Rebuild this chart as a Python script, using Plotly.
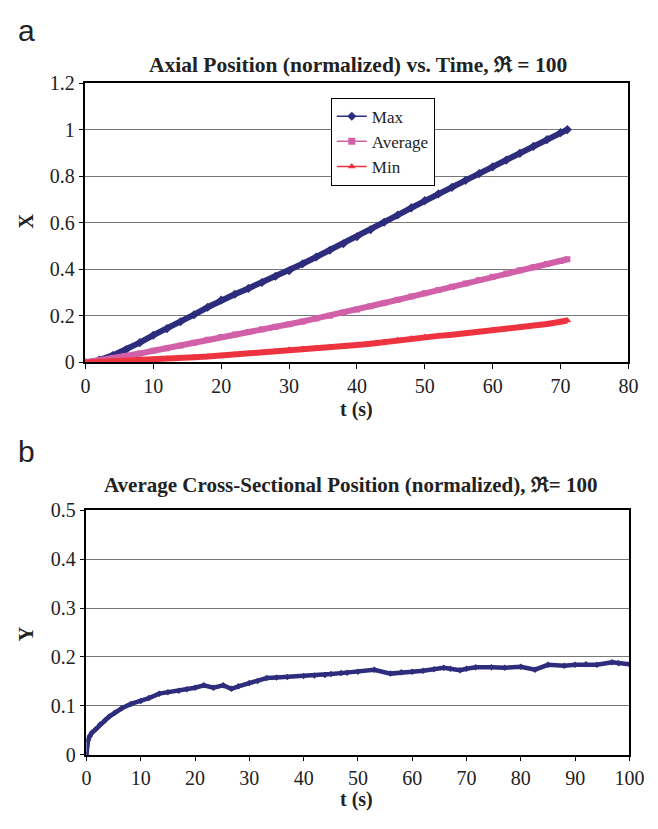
import plotly.graph_objects as go

# ---- Panel a data ----
t_a = [0, 2, 4, 6, 8, 10, 12, 14, 16, 18, 20, 22, 24, 26, 28, 30, 32, 34, 36, 38,
       40, 42, 44, 46, 48, 50, 52, 54, 56, 58, 60, 62, 64, 66, 68, 70, 71]
x_max = [0.0, 0.010, 0.030, 0.055, 0.085, 0.117, 0.145, 0.175, 0.205, 0.237, 0.268,
         0.293, 0.318, 0.343, 0.370, 0.394, 0.424, 0.453, 0.482, 0.510, 0.540,
         0.570, 0.602, 0.633, 0.664, 0.695, 0.724, 0.752, 0.782, 0.811, 0.840,
         0.869, 0.898, 0.928, 0.957, 0.987, 1.000]
x_avg = [0.0, 0.008, 0.017, 0.027, 0.038, 0.050, 0.061, 0.073, 0.085, 0.097, 0.109,
         0.120, 0.131, 0.142, 0.153, 0.164, 0.176, 0.189, 0.201, 0.214, 0.227,
         0.241, 0.255, 0.269, 0.283, 0.297, 0.311, 0.325, 0.339, 0.354, 0.368,
         0.382, 0.396, 0.409, 0.423, 0.436, 0.443]
x_min = [0.0, 0.002, 0.004, 0.006, 0.009, 0.013, 0.016, 0.019, 0.022, 0.025, 0.029,
         0.033, 0.037, 0.042, 0.048, 0.054, 0.058, 0.062, 0.066, 0.070, 0.075,
         0.080, 0.088, 0.096, 0.103, 0.109, 0.114, 0.119, 0.125, 0.131, 0.138,
         0.144, 0.150, 0.158, 0.165, 0.175, 0.180]

# ---- Panel b data ----
t_b = [0, 0.3, 0.6, 1, 1.7, 2.5, 3.4, 4.2, 5.2, 6.5, 8.2, 10, 11.5, 13.4, 15, 17,
       18.5, 20, 21.6, 23.4, 25.2, 26.7, 28, 30, 31.5, 33.2, 35, 37, 40, 42, 43.9,
       45, 46.9, 48, 50, 53, 56, 58, 60, 62, 64, 65.8, 67, 68.8, 70, 71.7, 74.6,
       77, 80, 82.6, 85, 88, 90, 92, 94, 96.8, 98, 100]
y_avg = [0.0, 0.030, 0.038, 0.045, 0.052, 0.062, 0.070, 0.078, 0.086, 0.095, 0.104,
         0.110, 0.116, 0.125, 0.128, 0.131, 0.134, 0.137, 0.142, 0.137, 0.142,
         0.135, 0.140, 0.147, 0.151, 0.157, 0.158, 0.159, 0.161, 0.162, 0.163,
         0.165, 0.167, 0.168, 0.170, 0.174, 0.166, 0.169, 0.170, 0.172, 0.175,
         0.178, 0.176, 0.173, 0.176, 0.179, 0.179, 0.178, 0.180, 0.174, 0.184,
         0.182, 0.184, 0.185, 0.184, 0.189, 0.187, 0.185]

series_names = ["Max", "Average", "Min"]
a_ticks_x = [0, 10, 20, 30, 40, 50, 60, 70, 80]
a_ticks_y = [0, 0.2, 0.4, 0.6, 0.8, 1, 1.2]
b_ticks_x = [0, 10, 20, 30, 40, 50, 60, 70, 80, 90, 100]
b_ticks_y = [0, 0.1, 0.2, 0.3, 0.4, 0.5]

W, H = 658, 829
SERIF = "Liberation Serif, Times New Roman, serif"
NAVY = "#2E2C7C"
PINK = "#D160A8"
RED = "#EE3340"
colors = [NAVY, PINK, RED]
symbols = ["diamond", "square", "triangle-up"]
msizes = [7, 6, 7]

fig = go.Figure()
for name, ys, c, s, ms in zip(series_names, [x_max, x_avg, x_min], colors, symbols, msizes):
    fig.add_trace(go.Scatter(x=t_a, y=ys, name=name, mode="lines+markers",
                             showlegend=False, legendgroup=name,
                             line=dict(color=c, width=6),
                             marker=dict(symbol=s, size=ms, color=c),
                             xaxis="x", yaxis="y"))
# legend entries (thin line with marker, as in the original legend)
for name, c, s in zip(series_names, colors, symbols):
    fig.add_trace(go.Scatter(x=[None], y=[None], name=name, mode="lines+markers",
                             legendgroup=name,
                             line=dict(color=c, width=1.5),
                             marker=dict(symbol=s, size=7, color=c),
                             xaxis="x", yaxis="y"))
fig.add_trace(go.Scatter(x=t_b, y=y_avg, name="Y", mode="lines+markers",
                         showlegend=False,
                         line=dict(color=NAVY, width=4.5),
                         marker=dict(symbol="diamond", size=5, color=NAVY),
                         xaxis="x2", yaxis="y2"))

xd = [83 / W, 643 / W]
xd2 = [84 / W, 644 / W]
axis_common = dict(showline=True, linecolor="black", linewidth=1.5, mirror=True,
                   ticks="outside", ticklen=5, tickcolor="black", tickwidth=1,
                   tickfont=dict(family=SERIF, size=20, color="#222"),
                   zeroline=False)

fig.update_layout(
    width=W, height=H, autosize=False,
    margin=dict(l=0, r=0, t=0, b=0),
    paper_bgcolor="white", plot_bgcolor="white",
    showlegend=True,
    legend=dict(x=336 / W, y=1 - 89 / H, xanchor="left", yanchor="top",
                bordercolor="black", borderwidth=1, bgcolor="white",
                font=dict(family=SERIF, size=17, color="#222"),
                tracegroupgap=0, itemwidth=30),
    xaxis=dict(domain=xd, anchor="y", range=[0, 80], tickvals=a_ticks_x,
               showgrid=False, **axis_common),
    yaxis=dict(domain=[1 - 361 / H, 1 - 74 / H], anchor="x", range=[0, 1.2],
               tickvals=a_ticks_y, ticktext=["0", "0.2", "0.4", "0.6", "0.8", "1", "1.2"],
               showgrid=True, gridcolor="#777777", gridwidth=1.3, **axis_common),
    xaxis2=dict(domain=xd2, anchor="y2", range=[0, 100], tickvals=b_ticks_x,
                showgrid=False, **axis_common),
    yaxis2=dict(domain=[1 - 764 / H, 1 - 513 / H], anchor="x2", range=[0, 0.5],
                tickvals=b_ticks_y, ticktext=["0", "0.1", "0.2", "0.3", "0.4", "0.5"],
                showgrid=True, gridcolor="#777777", gridwidth=1.3, **axis_common),
)

def ann(text, x, y, size, family=SERIF, bold=True, textangle=0):
    fig.add_annotation(text=f"<b>{text}</b>" if bold else text,
                       x=x / W, y=1 - y / H, xref="paper", yref="paper",
                       showarrow=False, textangle=textangle,
                       font=dict(family=family, size=size, color="#222"),
                       xanchor="center", yanchor="middle")

ann("Axial Position (normalized) vs. Time, \u211C = 100", 364, 55, 21.5)
ann("Average Cross-Sectional Position (normalized), \u211C= 100", 356, 487, 21)
ann("t (s)", 363, 409, 20)
ann("t (s)", 363, 810, 20)
ann("X", 22, 216, 20, textangle=-90)
ann("Y", 22, 640, 20, textangle=-90)
ann("a", 22, 20, 30, family="Liberation Sans, Arial, sans-serif", bold=False)
ann("b", 22, 452, 30, family="Liberation Sans, Arial, sans-serif", bold=False)

fig.write_html("out.html")
